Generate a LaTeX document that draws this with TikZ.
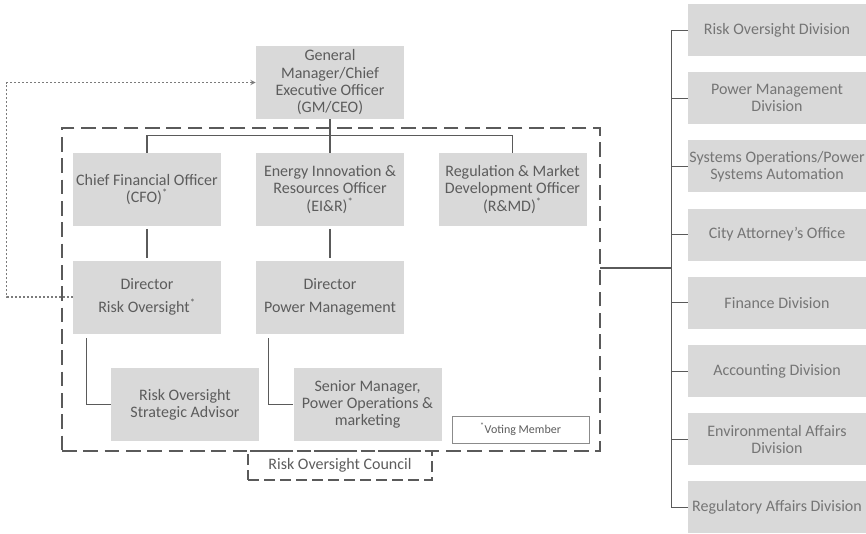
\documentclass[tikz,border=0pt]{standalone}
\usepackage{fontspec}
\setmainfont{Carlito}
\definecolor{boxgray}{HTML}{D9D9D9}
\definecolor{txtgray}{HTML}{5C5C5C}
\definecolor{linegray}{HTML}{5A5A5A}

\begin{document}
\begin{tikzpicture}[x=0.75pt, y=-0.75pt, >=stealth,
  role/.style={fill=boxgray, text=txtgray, align=center, inner sep=1pt,
    minimum width=111pt, minimum height=54.75pt, font=\fontsize{12}{13}\selectfont},
  unit/.style={role, minimum width=133.5pt, minimum height=39pt, text=txtgray!85},
  link/.style={draw=linegray, line width=0.9pt},
  frame/.style={draw=linegray, line width=1.4pt, dash pattern=on 11pt off 5pt},
  dotlink/.style={draw=linegray!80, line width=0.8pt, dash pattern=on 1.5pt off 1.5pt}]
  \useasboundingbox (0,0) rectangle (866,533);

  % council frame
  \node[frame, minimum width=403.5pt, minimum height=242.25pt] (roc) at (331,289.5) {};
  \node[frame, line width=1.2pt, dash pattern=on 8pt off 4pt, minimum width=138pt,
    minimum height=21.75pt, text=txtgray, font=\fontsize{12}{13}\selectfont] (council) at (340,465.5) {Risk Oversight Council};

  \node[role] (gm) at (330,82.5) {General\\Manager/Chief\\Executive Officer\\(GM/CEO)};
  \node[role] (cfo) at (147,189.5) {Chief Financial Officer\\(CFO)\textsuperscript{*}};
  \node[role] (eir) at (330,189.5) {Energy Innovation \&\\Resources Officer\\(EI\&R)\textsuperscript{*}};
  \node[role] (rmd) at (512.5,189.5) {Regulation \& Market\\Development Officer\\(R\&MD)\textsuperscript{*}};
  \node[role] (dro) at (147,297) {Director\\[4pt]Risk Oversight\textsuperscript{*}};
  \node[role] (dpm) at (330,297) {Director\\[4pt]Power Management};
  \node[role] (ros) at (185,404.5) {Risk Oversight\\Strategic Advisor};
  \node[role] (smp) at (367.5,404.5) {Senior Manager,\\Power Operations \&\\marketing};
  \node[draw=linegray!70, line width=0.6pt, minimum width=102.75pt, minimum height=20.25pt,
    text=txtgray, font=\fontsize{9}{10}\selectfont] (vote) at (520.5,429.5) {\textsuperscript{*}Voting Member};

  \draw[link] (gm) -- (eir);
  \draw[link] (cfo.north) -- ++(0,-17) -| (rmd.north);
  \draw[link, shorten <=2pt, shorten >=2pt] (cfo) -- (dro);
  \draw[link, shorten <=2pt, shorten >=2pt] (eir) -- (dpm);
  \draw[link] (ros.west) -| ([xshift=10.5pt,yshift=-3pt]dro.south west);
  \draw[link] (smp.west) -| ([xshift=9.75pt,yshift=-3pt]dpm.south west);
  \draw[dotlink, ->] (dro.west) -- ++(-66,0) |- (gm.west);

  % divisions
  \coordinate (bus) at (671,0);
  \foreach \t [count=\i] in {Risk Oversight Division, {Power Management\\Division},
      {Systems Operations/Power\\Systems Automation}, City Attorney's Office,
      Finance Division, Accounting Division, {Environmental Affairs\\Division},
      Regulatory Affairs Division} {
    \node[unit] (d\i) at (777,{30+68.2*(\i-1)}) {\t};
    \draw[link, line width=0.7pt] (d\i.west) -- (d\i.west -| bus);
  }
  \draw[link, line width=0.7pt] (d1.west -| bus) -- (d8.west -| bus);
  \coordinate (tap) at (600,268);
  \draw[link] (tap) -- (tap -| bus);
\end{tikzpicture}
\end{document}
